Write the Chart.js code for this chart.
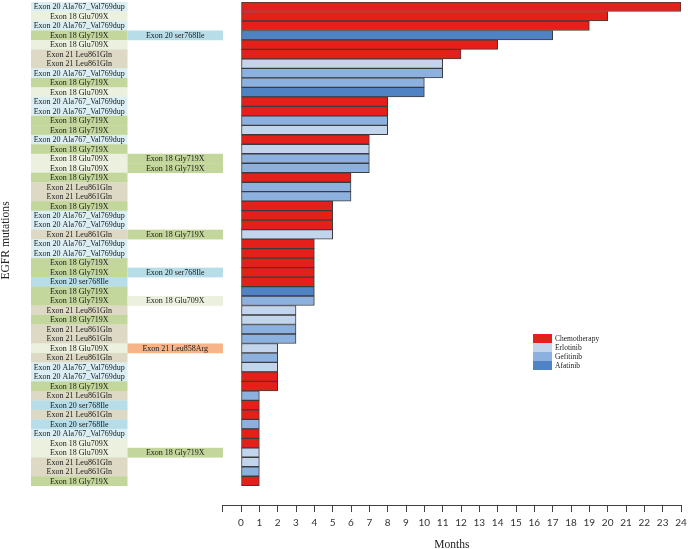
<!DOCTYPE html>
<html><head><meta charset="utf-8">
<script src="https://cdn.jsdelivr.net/npm/chart.js@4/dist/chart.umd.min.js"></script>
<style>html,body{margin:0;padding:0;background:#fff;}#wrap{width:688px;height:549px;}</style>
</head><body><div id="wrap"><canvas id="c" width="688" height="549"></canvas></div>
<script>
// ---- DATA ----
const primaryMutations = [
  'Exon 20 Ala767_Val769dup','Exon 18 Glu709X','Exon 20 Ala767_Val769dup','Exon 18 Gly719X','Exon 18 Glu709X',
  'Exon 21 Leu861Gln','Exon 21 Leu861Gln','Exon 20 Ala767_Val769dup','Exon 18 Gly719X','Exon 18 Glu709X',
  'Exon 20 Ala767_Val769dup','Exon 20 Ala767_Val769dup','Exon 18 Gly719X','Exon 18 Gly719X','Exon 20 Ala767_Val769dup',
  'Exon 18 Gly719X','Exon 18 Glu709X','Exon 18 Glu709X','Exon 18 Gly719X','Exon 21 Leu861Gln',
  'Exon 21 Leu861Gln','Exon 18 Gly719X','Exon 20 Ala767_Val769dup','Exon 20 Ala767_Val769dup','Exon 21 Leu861Gln',
  'Exon 20 Ala767_Val769dup','Exon 20 Ala767_Val769dup','Exon 18 Gly719X','Exon 18 Gly719X','Exon 20 ser768Ile',
  'Exon 18 Gly719X','Exon 18 Gly719X','Exon 21 Leu861Gln','Exon 18 Gly719X','Exon 21 Leu861Gln',
  'Exon 21 Leu861Gln','Exon 18 Glu709X','Exon 21 Leu861Gln','Exon 20 Ala767_Val769dup','Exon 20 Ala767_Val769dup',
  'Exon 18 Gly719X','Exon 21 Leu861Gln','Exon 20 ser768Ile','Exon 21 Leu861Gln','Exon 20 ser768Ile',
  'Exon 20 Ala767_Val769dup','Exon 18 Glu709X','Exon 18 Glu709X','Exon 21 Leu861Gln','Exon 21 Leu861Gln',
  'Exon 18 Gly719X'
];
const secondaryMutations = [
  '','','','Exon 20 ser768Ile','',
  '','','','','',
  '','','','','',
  '','Exon 18 Gly719X','Exon 18 Gly719X','','',
  '','','','','Exon 18 Gly719X',
  '','','','Exon 20 ser768Ile','',
  '','Exon 18 Glu709X','','','',
  '','Exon 21 Leu858Arg','','','',
  '','','','','',
  '','','Exon 18 Gly719X','','',
  ''
];
const months = [
  24,20,19,17,14,
  12,11,11,10,10,
  8,8,8,8,7,
  7,7,7,6,6,
  6,5,5,5,5,
  4,4,4,4,4,
  4,4,3,3,3,
  3,2,2,2,2,
  2,1,1,1,1,
  1,1,1,1,1,
  1
];
const treatments = [
  'Chemotherapy','Chemotherapy','Chemotherapy','Afatinib','Chemotherapy',
  'Chemotherapy','Erlotinib','Gefitinib','Gefitinib','Afatinib',
  'Chemotherapy','Chemotherapy','Gefitinib','Erlotinib','Chemotherapy',
  'Erlotinib','Gefitinib','Gefitinib','Chemotherapy','Gefitinib',
  'Gefitinib','Chemotherapy','Chemotherapy','Chemotherapy','Erlotinib',
  'Chemotherapy','Chemotherapy','Chemotherapy','Chemotherapy','Chemotherapy',
  'Afatinib','Gefitinib','Erlotinib','Erlotinib','Gefitinib',
  'Gefitinib','Erlotinib','Gefitinib','Erlotinib','Chemotherapy',
  'Chemotherapy','Gefitinib','Chemotherapy','Chemotherapy','Gefitinib',
  'Chemotherapy','Chemotherapy','Erlotinib','Erlotinib','Gefitinib',
  'Chemotherapy'
];
const treatmentNames = ['Chemotherapy','Erlotinib','Gefitinib','Afatinib'];
const monthAxisMin = -1;
const monthAxisMax = 24;

// ---- STYLES ----
const treatmentColors = {Chemotherapy:'#e5201b', Erlotinib:'#c3d5ec', Gefitinib:'#8db1de', Afatinib:'#4f83c4'};
const mutationColors = {
  'Exon 20 Ala767_Val769dup':'#dbeef4',
  'Exon 18 Glu709X':'#ebf1de',
  'Exon 18 Gly719X':'#c3d69b',
  'Exon 21 Leu861Gln':'#ddd9c4',
  'Exon 20 ser768Ile':'#b7dde8',
  'Exon 21 Leu858Arg':'#f6b488'
};

const datasets = treatmentNames.map(name => ({
  label: name,
  data: months.map((m, i) => ({x: m, y: i})).filter((p, i) => treatments[i] === name),
  backgroundColor: treatmentColors[name],
  borderColor: '#3c3c3c',
  borderWidth: 1,
  borderSkipped: false,
  categoryPercentage: 1,
  barPercentage: 1
}));

const labelBoxes = {
  id: 'labelBoxes',
  beforeDatasetsDraw(chart) {
    const ctx = chart.ctx, y = chart.scales.y;
    ctx.save();
    ctx.font = '8px "Liberation Serif", "Times New Roman", serif';
    ctx.textAlign = 'center';
    ctx.textBaseline = 'middle';
    const cols = [[31, 127.5, primaryMutations], [127.5, 223, secondaryMutations]];
    primaryMutations.forEach((_, i) => {
      const t = y.getPixelForValue(i - 0.5), b = y.getPixelForValue(i + 0.5);
      cols.forEach(([x0, x1, arr]) => {
        const txt = arr[i];
        if (!txt) return;
        ctx.fillStyle = mutationColors[txt] || '#eee';
        ctx.fillRect(x0, t, x1 - x0, b - t + 0.3);
      });
    });
    primaryMutations.forEach((_, i) => {
      const c = y.getPixelForValue(i);
      cols.forEach(([x0, x1, arr]) => {
        const txt = arr[i];
        if (!txt) return;
        ctx.fillStyle = '#1a1a1a';
        ctx.fillText(txt, (x0 + x1) / 2, c + 0.5);
      });
    });
    ctx.restore();
  },
  afterDraw(chart) {
    const ctx = chart.ctx;
    ctx.save();
    ctx.font = '7.5px "Liberation Serif", "Times New Roman", serif';
    ctx.textBaseline = 'middle';
    ctx.textAlign = 'left';
    chart.data.datasets.forEach((ds, k) => {
      const top = 334 + k * 9;
      ctx.fillStyle = ds.backgroundColor;
      ctx.fillRect(533, top, 19, 9);
      ctx.fillStyle = '#222';
      ctx.fillText(ds.label, 555, top + 4.8);
    });
    ctx.restore();
  }
};

new Chart(document.getElementById('c'), {
  type: 'bar',
  data: { datasets },
  plugins: [labelBoxes],
  options: {
    indexAxis: 'y',
    responsive: false,
    devicePixelRatio: 1,
    animation: false,
    layout: { padding: { left: 0, right: 7, top: 2, bottom: 0 } },
    plugins: { legend: { display: false }, tooltip: { enabled: false } },
    scales: {
      x: {
        type: 'linear',
        min: monthAxisMin,
        max: monthAxisMax,
        stacked: true,
        offset: false,
        position: 'bottom',
        grid: { display: true, offset: false, drawOnChartArea: false, drawTicks: true, tickLength: 7, color: '#404040', lineWidth: 1 },
        border: { display: true, color: '#404040', width: 1 },
        ticks: {
          stepSize: 1, autoSkip: false, maxRotation: 0, padding: 5, color: '#333',
          font: { family: 'Lato, "Liberation Sans", sans-serif', size: 10 },
          callback: v => (v < 0 ? '' : String(v))
        },
        title: { display: true, text: 'Months', color: '#222', padding: { top: 0, bottom: -3 },
          font: { family: '"Liberation Serif", "Times New Roman", serif', size: 11.5 } },
        afterFit(scale) { scale.height = 44; scale.paddingLeft = 0; scale.paddingRight = 0; }
      },
      y: {
        type: 'linear',
        min: -0.5,
        max: 52.53,
        reverse: true,
        stacked: true,
        offset: false,
        grid: { display: false, offset: false },
        border: { display: false },
        ticks: { display: false, stepSize: 1, includeBounds: false },
        title: { display: true, text: '\u00a0\u00a0\u00a0\u00a0\u00a0\u00a0\u00a0\u00a0\u00a0EGFR mutations', color: '#222', padding: { top: -1, bottom: 0 },
          font: { family: '"Liberation Serif", "Times New Roman", serif', size: 11.6 } },
        afterFit(scale) { scale.width = 222.67; scale.paddingTop = 0; scale.paddingBottom = 0; }
      }
    }
  }
});
</script>
</body></html>
